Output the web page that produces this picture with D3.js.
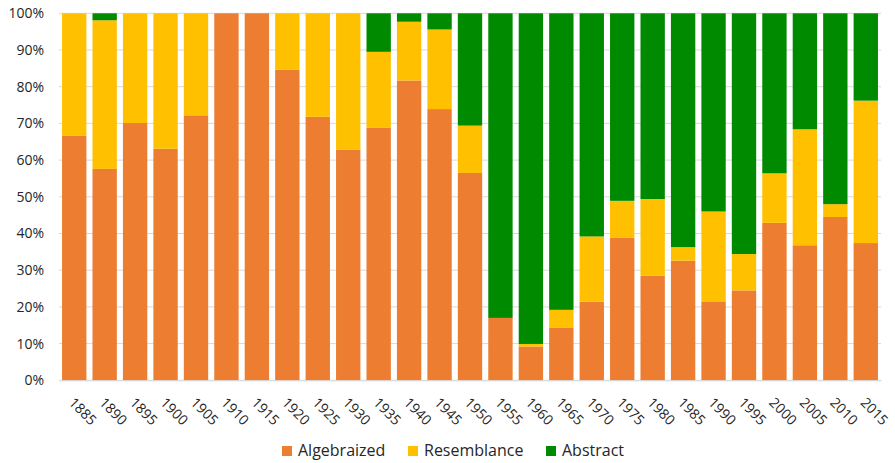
<!DOCTYPE html>
<html><head><meta charset="utf-8">
<script src="https://cdn.jsdelivr.net/npm/d3@7"></script>
<style>body{margin:0;background:#fff;}svg{display:block;font-family:"Open Sans",sans-serif;}</style>
</head><body><svg id="c" width="895" height="463"></svg>
<script>
const years = ["1885","1890","1895","1900","1905","1910","1915","1920","1925","1930","1935","1940","1945","1950","1955","1960","1965","1970","1975","1980","1985","1990","1995","2000","2005","2010","2015"];
const algebraized = [66.6,57.6,70.1,63.1,72.2,100,100,84.6,71.8,62.8,68.9,81.7,73.9,56.5,17.0,9.2,14.4,21.4,38.8,28.5,32.6,21.5,24.5,42.9,36.8,44.5,37.4];
const resemblance = [33.4,40.5,29.9,36.9,27.8,0,0,15.4,28.2,37.2,20.6,16.0,21.7,12.9,0,0.7,4.8,17.8,10.1,20.9,3.7,24.5,9.9,13.5,31.6,3.5,38.8];
const abstract_ = [0,1.9,0,0,0,0,0,0,0,0,10.5,2.3,4.4,30.6,83.0,90.1,80.8,60.8,51.1,50.6,63.7,54.0,65.6,43.6,31.6,52.0,23.8];
const seriesNames = ["Algebraized","Resemblance","Abstract"];
const colors = ["#ED7D31","#FFC000","#008A00"];
const yTicks = [0,10,20,30,40,50,60,70,80,90,100];

const svg = d3.select("#c");
const x = d3.scaleBand().domain(years).range([59,881]).paddingInner(0.2).paddingOuter(0.1);
const y = d3.scaleLinear().domain([0,100]).range([380.3,13.3]);

// grid
svg.append("g").selectAll("line").data(yTicks).join("line")
  .attr("x1",59).attr("x2",881).attr("y1",d=>y(d)).attr("y2",d=>y(d))
  .attr("stroke","#D9D9D9").attr("stroke-width",1);

const rows = years.map((yr,i)=>({year:yr,Algebraized:algebraized[i],Resemblance:resemblance[i],Abstract:abstract_[i]}));
const stacked = d3.stack().keys(seriesNames)(rows);
svg.append("g").selectAll("g").data(stacked).join("g").attr("fill",(d,i)=>colors[i])
  .selectAll("rect").data(d=>d).join("rect")
  .attr("x",d=>x(d.data.year)).attr("width",x.bandwidth())
  .attr("y",d=>y(Math.min(100,d[1]))).attr("height",d=>Math.max(0,y(d[0])-y(Math.min(100,d[1]))));

// y axis
const ya = svg.append("g").attr("transform","translate(50,0)")
  .call(d3.axisLeft(y).tickValues(yTicks).tickFormat(d=>d+"%").tickSize(0).tickPadding(6));
ya.select(".domain").remove();
ya.selectAll("text").attr("font-size","14px").attr("fill","#262626").attr("font-family","Open Sans");

// x axis
const xa = svg.append("g").attr("transform","translate(0,380.3)")
  .call(d3.axisBottom(x).tickSize(0));
xa.select(".domain").attr("stroke","#D9D9D9");
xa.selectAll("text").attr("font-size","14px").attr("fill","#262626").attr("font-family","Open Sans")
  .attr("text-anchor","start").attr("x",0).attr("y",0).attr("dy","0.72em")
  .attr("transform","translate(1,16) rotate(45)");

// legend
const lx = [282,408,546];
const lg = svg.append("g").selectAll("g").data(seriesNames).join("g")
  .attr("transform",(d,i)=>`translate(${lx[i]},446)`);
lg.append("rect").attr("width",10).attr("height",10).attr("fill",(d,i)=>colors[i]);
lg.append("text").attr("x",16).attr("y",10).attr("font-size","16px").attr("fill","#262626").text(d=>d);
</script></body></html>
